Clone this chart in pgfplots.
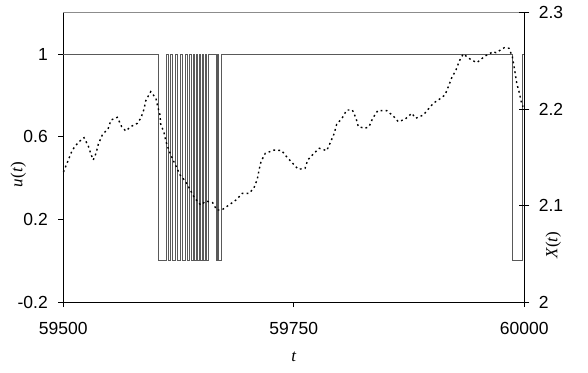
\documentclass[border=0pt]{standalone}
\usepackage{fontspec}
\setmainfont{Liberation Sans}
\newfontfamily\tnr{Liberation Serif}
\usepackage{pgfplots}
\pgfplotsset{compat=1.18}
\begin{document}
\begin{tikzpicture}
\useasboundingbox (-63.3pt,-70pt) rectangle (524.7pt,302pt);
\begin{axis}[
  scale only axis, width=461pt, height=289.3pt,
  xmin=59500, xmax=60000, ymin=-0.2, ymax=1.2,
  axis y line*=left, axis x line*=bottom,
  axis line style={black, line width=0.8pt},
  xtick={59500,59750,60000}, ytick={-0.2,0.2,0.6,1},
  tick style={black, line width=0.8pt},
  major tick length=5pt, tick align=outside,
  scaled x ticks=false,
  /pgf/number format/1000 sep={},
  /pgf/number format/assume math mode=true,
  ticklabel style={font=\fontsize{17.5}{20}\selectfont},
  xticklabel style={yshift=-12pt},
  yticklabel style={xshift=-7pt},
  clip=false,
]
\draw[black!45, line width=0.9pt] (rel axis cs:0,1) -- (rel axis cs:1,1);
\node[font=\fontsize{17}{20}\selectfont\tnr, xshift=-45pt, rotate=90] at (rel axis cs:0,0.44) {\textit{u}(\textit{t})};
\node[font=\fontsize{17}{20}\selectfont\tnr, yshift=-55pt] at (rel axis cs:0.5,0) {\textit{t}};
\addplot[const plot, black!65, line width=0.6pt] coordinates {
(59500,1) (59603,0) (59611.7,1) (59613.9,0) (59616,1) (59618.2,0) (59621.5,1)
(59623.6,0) (59626.9,1) (59629,0) (59632.3,1) (59634.5,0) (59636.7,1)
(59638.8,0) (59641,1) (59642.1,0) (59644.3,1) (59645.3,0) (59647.5,1)
(59648.6,0) (59650.8,1) (59651.8,0) (59654,1) (59655.1,0) (59657.3,1)
(59666,0) (59667,1) (59668.1,0) (59671.4,1) (59987,0) (59998,1) (60000,1)
};
\end{axis}
\begin{axis}[
  scale only axis, width=461pt, height=289.3pt,
  xmin=59500, xmax=60000, ymin=2, ymax=2.3,
  axis y line*=right, axis x line=none,
  axis line style={black, line width=0.8pt},
  ytick={2,2.1,2.2,2.3},
  tick style={black, line width=0.8pt},
  major tick length=10pt, tick align=center,
  /pgf/number format/assume math mode=true,
  ticklabel style={font=\fontsize{17.5}{20}\selectfont},
  yticklabel style={xshift=6pt},
  clip=false,
]
\node[font=\fontsize{17}{20}\selectfont\tnr, xshift=29pt, rotate=90] at (rel axis cs:1,0.197) {\textit{X}(\textit{t})};
\addplot[black, line width=1.4pt, dash pattern=on 1.8pt off 3.2pt] coordinates {
(59500.2,2.1348) (59501.8,2.1387) (59506.2,2.1490) (59509.8,2.1576) (59516.3,2.1656)
(59522.5,2.1704) (59527.1,2.1618) (59530.0,2.1532) (59532.5,2.1473) (59535.5,2.1542)
(59538.0,2.1638) (59542.3,2.1732) (59548.8,2.1801) (59551.7,2.1887) (59558.6,2.1915)
(59563.3,2.1818) (59567.7,2.1773) (59573.1,2.1818) (59580.3,2.1853) (59584.3,2.1911)
(59587.5,2.1998) (59589.4,2.2087) (59594.8,2.2181) (59600.5,2.2112) (59602.4,2.2025)
(59604.9,2.1939) (59605.6,2.1846) (59609.2,2.1758) (59611.4,2.1662) (59614.6,2.1573)
(59618.2,2.1490) (59622.2,2.1410) (59626.6,2.1317) (59632.0,2.1258) (59637.4,2.1169)
(59642.1,2.1082) (59649.0,2.1006) (59654.8,2.1047) (59662.0,2.1030) (59666.4,2.0954)
(59671.8,2.0954) (59679.7,2.1006) (59687.3,2.1058) (59694.1,2.1127) (59701.7,2.1127)
(59706.8,2.1185) (59710.4,2.1272) (59712.3,2.1369) (59714.4,2.1455) (59719.1,2.1542)
(59728.8,2.1576) (59736.7,2.1571) (59742.9,2.1498) (59748.8,2.1438) (59754.9,2.1376)
(59762.2,2.1386) (59765.1,2.1473) (59771.2,2.1535) (59777.7,2.1594) (59785.7,2.1569)
(59790.0,2.1662) (59793.6,2.1742) (59796.5,2.1843) (59802.3,2.1905) (59807.4,2.1991)
(59813.5,2.1991) (59817.5,2.1905) (59820.0,2.1818) (59827.2,2.1801) (59831.6,2.1818)
(59835.6,2.1905) (59841.0,2.1984) (59850.8,2.1984) (59857.9,2.1929) (59863.3,2.1870)
(59870.6,2.1895) (59877.9,2.1957) (59882.2,2.1905) (59890.5,2.1939) (59895.9,2.2001)
(59901.3,2.2061) (59907.8,2.2102) (59914.0,2.2147) (59917.6,2.2233) (59921.3,2.2326)
(59925.9,2.2406) (59929.5,2.2499) (59933.8,2.2572) (59941.1,2.2520) (59948.4,2.2482)
(59951.2,2.2502) (59957.4,2.2551) (59966.4,2.2596) (59969.3,2.2585) (59978.3,2.2637)
(59983.4,2.2631) (59987.0,2.2544) (59988.8,2.2447) (59991.8,2.2268) (59994.3,2.2181)
(59996.4,2.2087) (59998.5,2.2025)
};
\end{axis}
\end{tikzpicture}
\end{document}
